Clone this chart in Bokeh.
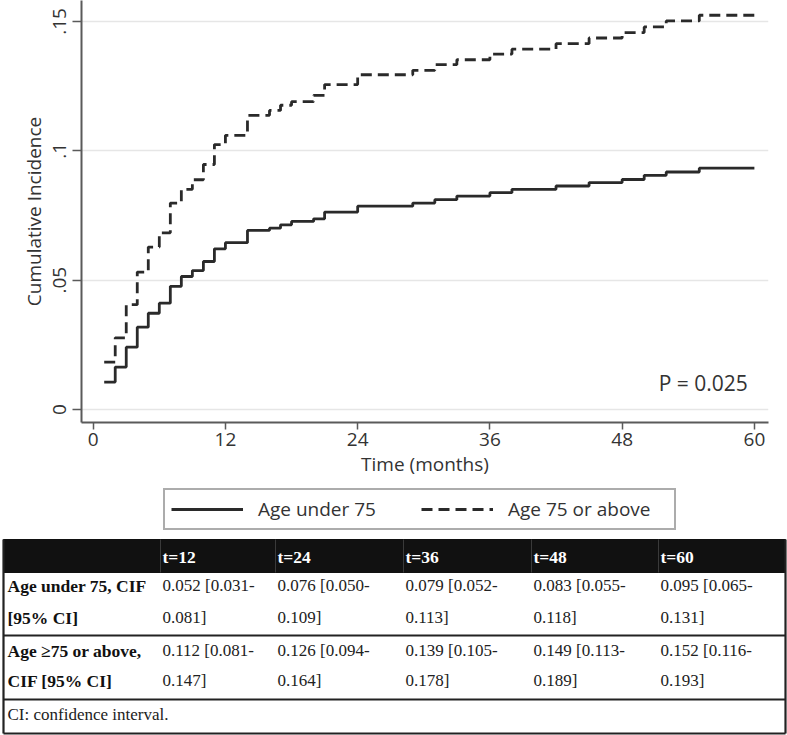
from bokeh.plotting import figure
from bokeh.models import (Range1d, FixedTicker, Legend, LegendItem, Label, ColumnDataSource)
from bokeh.core.properties import value
from bokeh.embed import file_html
from bokeh.resources import INLINE

# ---------------- data ----------------
months = [1, 2, 3, 4, 5, 6, 7, 8, 9, 10, 11, 12, 14, 16, 17, 18, 20, 21, 24,
          29, 31, 33, 36, 38, 42, 45, 48, 50, 52, 55, 60]
cif_under75 = [0.0106, 0.0164, 0.0241, 0.0318, 0.0372, 0.0411, 0.0476, 0.0514,
               0.0537, 0.0572, 0.0621, 0.0645, 0.0692, 0.0701, 0.0714, 0.0727,
               0.0737, 0.0763, 0.0786, 0.0798, 0.0811, 0.0825, 0.0838, 0.0851,
               0.0864, 0.0877, 0.0889, 0.0905, 0.0918, 0.0933, 0.0933]
cif_75plus = [0.0183, 0.0277, 0.0405, 0.0531, 0.0628, 0.0683, 0.0798, 0.0851,
              0.0888, 0.0947, 0.1024, 0.1060, 0.1137, 0.1156, 0.1176, 0.1190,
              0.1214, 0.1256, 0.1294, 0.1311, 0.1333, 0.1352, 0.1374, 0.1393,
              0.1414, 0.1436, 0.1457, 0.1479, 0.1502, 0.1524, 0.1524]

x_ticks = [0, 12, 24, 36, 48, 60]
y_ticks = [0, 0.05, 0.1, 0.15]
y_tick_labels = ["0", ".05", ".1", ".15"]
series_names = ["Age under 75", "Age 75 or above"]
p_text = "P = 0.025"

table_headers = ["t=12", "t=24", "t=36", "t=48", "t=60"]
row_labels = [["Age under 75, CIF", "[95% CI]"], ["Age \u226575 or above,", "CIF [95% CI]"]]
under_cif = [0.052, 0.076, 0.079, 0.083, 0.095]
under_lo = [0.031, 0.050, 0.052, 0.055, 0.065]
under_hi = [0.081, 0.109, 0.113, 0.118, 0.131]
over_cif = [0.112, 0.126, 0.139, 0.149, 0.152]
over_lo = [0.081, 0.094, 0.105, 0.113, 0.116]
over_hi = [0.147, 0.164, 0.178, 0.189, 0.193]
footnote = "CI: confidence interval."

# ---------------- styles ----------------
SANS = "Open Sans"
SERIF = "Liberation Serif"
TXT = "#333333"
AX = "#5a5a5a"
LINE = "#2a2a2a"
SOLID = dict(line_color=LINE, line_width=2.8)
DASHED = dict(line_color=LINE, line_width=2.8, line_dash="11 6")

W = 787
H1 = 485
H2 = 735 - H1
FRAME_BOTTOM = 422

# ---------------- chart ----------------
p = figure(width=W, height=H1, output_backend="svg", toolbar_location=None,
           x_range=Range1d(-1.06, 61.28), y_range=Range1d(-0.00503, 0.1581),
           min_border_left=81, min_border_right=19, min_border_top=0,
           min_border_bottom=H1 - FRAME_BOTTOM)
p.outline_line_color = None
p.xgrid.visible = False
p.ygrid.grid_line_color = "#e6e6e6"
p.ygrid.grid_line_width = 1.5
p.ygrid.ticker = FixedTicker(ticks=y_ticks)

p.xaxis.ticker = FixedTicker(ticks=x_ticks)
p.yaxis.ticker = FixedTicker(ticks=y_ticks)
p.yaxis.major_label_overrides = {t: l for t, l in zip(y_ticks, y_tick_labels)}
p.yaxis.major_label_orientation = "vertical"

for ax in (p.xaxis[0], p.yaxis[0]):
    ax.axis_line_color = AX
    ax.axis_line_width = 2
    ax.major_tick_line_color = AX
    ax.major_tick_line_width = 1.5
    ax.major_tick_in = 0
    ax.minor_tick_line_color = None
    ax.major_label_text_font = SANS
    ax.major_label_text_font_size = "19px"
    ax.major_label_text_color = TXT
    ax.axis_label_text_font = SANS
    ax.axis_label_text_font_size = "19px"
    ax.axis_label_text_font_style = "normal"
    ax.axis_label_text_color = TXT

p.xaxis.major_tick_out = 7
p.yaxis.major_tick_out = 9
p.xaxis.major_label_standoff = 3
p.yaxis.major_label_standoff = 6
p.xaxis.axis_label = "Time (months)"
p.yaxis.axis_label = "Cumulative Incidence"
p.xaxis.axis_label_standoff = 2
p.yaxis.axis_label_standoff = 4

src = ColumnDataSource(data=dict(t=months, a=cif_under75, b=cif_75plus))
r1 = p.step(x="t", y="a", source=src, mode="after", **SOLID)
r2 = p.step(x="t", y="b", source=src, mode="after", **DASHED)

p.add_layout(Label(x=59.4, y=0.0104, text=p_text, text_align="right",
                   text_baseline="middle", text_font=SANS,
                   text_font_size="21px", text_color=TXT))

# ---------------- legend + table ----------------
t = figure(width=W, height=H2, output_backend="svg", toolbar_location=None,
           x_range=Range1d(0, W), y_range=Range1d(H2, 0),
           min_border_left=0, min_border_right=0, min_border_top=0,
           min_border_bottom=0)
t.axis.visible = False
t.grid.visible = False
t.outline_line_color = None

# legend keys: the same series on a range that keeps them out of this panel's view
t.extra_y_ranges = {"keys": Range1d(10, 20)}
k1 = t.step(x="t", y="a", source=src, mode="after", y_range_name="keys", **SOLID)
k2 = t.step(x="t", y="b", source=src, mode="after", y_range_name="keys", **DASHED)
legend = Legend(items=[LegendItem(label=series_names[0], renderers=[k1]),
                       LegendItem(label=series_names[1], renderers=[k2])],
                orientation="horizontal", location=(163, H2 - 45),
                border_line_color=AX, border_line_width=2,
                padding=6, spacing=3, glyph_width=72, glyph_height=22,
                label_standoff=15, label_width=160,
                label_text_font=SANS, label_text_font_size="19px",
                label_text_color=TXT, margin=0,
                background_fill_color="white", background_fill_alpha=1.0)
t.add_layout(legend, "center")

col_x = [7, 162, 277, 405, 533, 660]
hdr_top, hdr_bot = 54, 87
row_bounds = [87, 150, 214, 248]
left, right = 3, 785

# header band
t.quad(left=[left], right=[right], top=[hdr_top], bottom=[hdr_bot],
       fill_color="#111111", line_color="#111111")
t.segment(x0=[c - 2 for c in col_x[1:]], x1=[c - 2 for c in col_x[1:]],
          y0=[hdr_top] * 5, y1=[hdr_bot] * 5, line_color="#3a3a3a", line_width=1)
t.text(x=col_x[1:], y=[(hdr_top + hdr_bot) / 2 + 1] * 5, text=table_headers,
       text_font=value(SERIF), text_font_style="bold", text_font_size="17.5px",
       text_color="white", text_baseline="middle")

# borders
t.segment(x0=[left, right, left, left, left], x1=[left, right, right, right, right],
          y0=[hdr_top, hdr_top, row_bounds[1], row_bounds[2], row_bounds[3]],
          y1=[row_bounds[3], row_bounds[3], row_bounds[1], row_bounds[2], row_bounds[3]],
          line_color="#222222", line_width=2.2)

line_y = [[100, 132], [165, 195]]
for ri, (cif, lo, hi) in enumerate([(under_cif, under_lo, under_hi),
                                    (over_cif, over_lo, over_hi)]):
    y1, y2 = line_y[ri]
    t.text(x=[col_x[0], col_x[0]], y=[y1, y2], text=row_labels[ri],
           text_font=value(SERIF), text_font_style="bold", text_font_size="17.5px",
           text_color="#111111", text_baseline="middle")
    first = [f"{c:.3f} [{l:.3f}-" for c, l in zip(cif, lo)]
    second = [f"{h:.3f}]" for h in hi]
    t.text(x=col_x[1:], y=[y1] * 5, text=first, text_font=value(SERIF),
           text_font_size="17px", text_color="#222222", text_baseline="middle")
    t.text(x=col_x[1:], y=[y2] * 5, text=second, text_font=value(SERIF),
           text_font_size="17px", text_color="#222222", text_baseline="middle")

t.text(x=[col_x[0]], y=[229], text=[footnote], text_font=value(SERIF),
       text_font_size="17px", text_color="#222222", text_baseline="middle")

html = file_html([p, t], INLINE)
html = html.replace("<head>", "<head><style>html,body{margin:0;padding:0;overflow:hidden;line-height:0;}</style>", 1)
open("out.html", "w").write(html)
